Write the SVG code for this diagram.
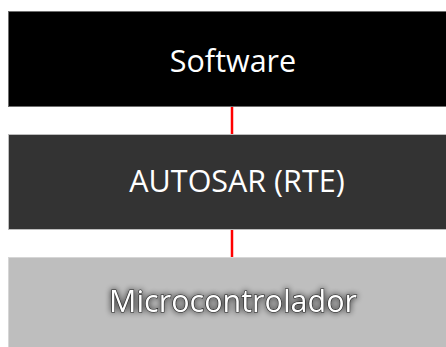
<svg xmlns="http://www.w3.org/2000/svg" width="446" height="347" viewBox="0 0 446 347">
  <style>
    .box { stroke-width: 1; }
    .label { font-family: "Open Sans", "Noto Sans", sans-serif; font-size: 30.5px; fill: #ffffff; text-anchor: middle; }
    .link { stroke: #ff0000; stroke-width: 2.5; fill: none; }
  </style>
  <defs>
    <filter id="glow" x="-20%" y="-50%" width="140%" height="200%">
      <feGaussianBlur in="SourceAlpha" stdDeviation="3"/>
      <feComponentTransfer><feFuncA type="linear" slope="0.8"/></feComponentTransfer>
      <feMerge><feMergeNode/><feMergeNode in="SourceGraphic"/></feMerge>
    </filter>
  </defs>
  <rect width="446" height="347" fill="#ffffff"/>
  <g id="connectors">
    <line class="link" x1="232" y1="106" x2="232" y2="134"/>
    <line class="link" x1="232" y1="230" x2="232" y2="257"/>
  </g>
  <g id="software">
    <rect class="box" x="8.5" y="11.5" width="440" height="95" fill="#000000" stroke="#6e6e6e"/>
    <text class="label" x="233" y="72">Software</text>
  </g>
  <g id="autosar">
    <rect class="box" x="8.5" y="134.5" width="440" height="95" fill="#333333" stroke="#bdbdbd"/>
    <text class="label" x="237" y="192">AUTOSAR (RTE)</text>
  </g>
  <g id="micro">
    <rect class="box" x="8.5" y="257.5" width="440" height="95" fill="#bebebe" stroke="#d6d6d6"/>
    <text class="label" x="233" y="312" stroke="#222222" stroke-width="1.2" paint-order="stroke" filter="url(#glow)">Microcontrolador</text>
  </g>
</svg>
